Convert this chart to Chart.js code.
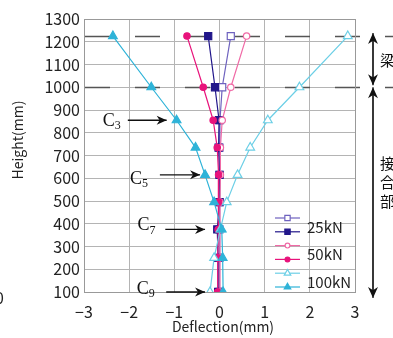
<!DOCTYPE html>
<html>
<head>
<meta charset="utf-8">
<script src="https://cdn.jsdelivr.net/npm/chart.js@4/dist/chart.umd.min.js"></script>
<style>
  html, body { margin: 0; padding: 0; background: #fff; }
  #wrap { width: 393px; height: 338px; }
</style>
</head>
<body>
<div id="wrap"><canvas id="chartDefl" width="393" height="338"></canvas></div>
<script>
// data
const heights = [1225, 1000, 855, 735, 615, 495, 375, 250, 100];
const def25open   = [0.25, 0.06, 0.01, 0.00, 0.00, 0.00, 0.00, 0.00, 0.00];
const def25fill   = [-0.25, -0.10, -0.01, -0.02, 0.00, 0.00, -0.05, -0.03, -0.03];
const def50open   = [0.60, 0.25, 0.06, 0.02, 0.02, 0.01, 0.01, 0.01, 0.01];
const def50fill   = [-0.72, -0.36, -0.14, -0.05, -0.02, -0.02, -0.03, -0.04, -0.04];
const def100open  = [2.84, 1.77, 1.07, 0.68, 0.40, 0.16, 0.02, -0.12, -0.21];
const def100fill  = [-2.36, -1.51, -0.95, -0.53, -0.32, -0.12, 0.05, 0.07, 0.08];

const xTicks = [-3, -2, -1, 0, 1, 2, 3];
const yTicks = [100, 200, 300, 400, 500, 600, 700, 800, 900, 1000, 1100, 1200, 1300];
const legendNames = ['25kN', '50kN', '100kN'];

// section boundaries (dashed lines) and cross-section markers
const boundaryHeights = [1225, 1000];
const cNames = ['3', '5', '7', '9'];
const cHeights = [855, 615, 375, 100];

const tickFont = '"Noto Sans CJK JP", "DejaVu Sans", sans-serif';

function pts(xs) {
    return xs.map((v, i) => ({ x: v, y: heights[i] }));
}

function series(label, xs, color, style, filled, radius, order) {
    return {
        label: label,
        data: pts(xs),
        showLine: true,
        order: order, // later series on top, like the original
        borderColor: color,
        backgroundColor: filled ? color : '#fff',
        pointBackgroundColor: filled ? color : '#fff',
        pointBorderColor: color,
        pointStyle: style,
        pointRadius: radius,
        pointBorderWidth: 1.2,
        borderWidth: 1.2,
        tension: 0
    };
}

const datasets = [
    series('25kN', def25open, '#6e62bf', 'rect', false, 5, 5),
    series('25kN', def25fill, '#21168a', 'rect', true, 5, 4),
    series('50kN', def50open, '#f06aa6', 'circle', false, 3.2, 3),
    series('50kN', def50fill, '#e8137b', 'circle', true, 3.2, 2),
    series('100kN', def100open, '#6ccfe6', 'triangle', false, 5, 1),
    series('100kN', def100fill, '#2eb3d8', 'triangle', true, 5, 0)
];

// dashed boundary lines (drawn under the data)
const boundaryPlugin = {
    id: 'boundary',
    beforeDatasetsDraw(chart) {
        const ctx = chart.ctx;
        const y = chart.scales.y;
        ctx.save();
        ctx.strokeStyle = '#555';
        ctx.lineWidth = 1.5;
        ctx.setLineDash([25, 25]);
        boundaryHeights.forEach(h => {
            const py = Math.round(y.getPixelForValue(h)) + 0.5;
            ctx.beginPath();
            ctx.moveTo(chart.chartArea.left + 1, py);
            ctx.lineTo(chart.width, py);
            ctx.stroke();
        });
        ctx.restore();
    }
};

function arrow(ctx, x1, y1, x2, y2, head) {
    ctx.beginPath();
    ctx.moveTo(x1, y1);
    ctx.lineTo(x2, y2);
    ctx.stroke();
    const a = Math.atan2(y2 - y1, x2 - x1);
    ctx.beginPath();
    ctx.moveTo(x2, y2);
    ctx.lineTo(x2 - head * Math.cos(a) + head * 0.45 * Math.sin(a), y2 - head * Math.sin(a) - head * 0.45 * Math.cos(a));
    ctx.lineTo(x2 - head * 0.7 * Math.cos(a), y2 - head * 0.7 * Math.sin(a));
    ctx.lineTo(x2 - head * Math.cos(a) - head * 0.45 * Math.sin(a), y2 - head * Math.sin(a) + head * 0.45 * Math.cos(a));
    ctx.closePath();
    ctx.fill();
}

// annotations: titles, C labels, right side arrows, legend
const notesPlugin = {
    id: 'notes',
    afterDraw(chart) {
        const ctx = chart.ctx;
        const xs = chart.scales.x;
        const ys = chart.scales.y;
        ctx.save();

        // axis titles
        ctx.fillStyle = '#222';
        ctx.font = '14px ' + tickFont;
        ctx.textAlign = 'center';
        ctx.textBaseline = 'middle';
        ctx.fillText('Deflection(mm)', 223, 327);
        ctx.save();
        ctx.translate(18, 140);
        ctx.rotate(-Math.PI / 2);
        ctx.fillText('Height(mm)', 0, 0);
        ctx.restore();

        // cut-off "0" at the far left
        ctx.font = '16px ' + tickFont;
        ctx.textAlign = 'left';
        ctx.fillText('0', -5, 298);

        // C labels with arrows
        const arrowFrom = [-2.03, -1.32, -1.2, -1.18];
        const arrowTo = [-1.17, -0.43, -0.32, -0.32];
        const labelX = [-2.45, -1.85, -1.68, -1.7];
        const labelDy = [1, 4, -4, -3];
        ctx.strokeStyle = '#111';
        ctx.fillStyle = '#111';
        ctx.lineWidth = 1.3;
        cNames.forEach((n, i) => {
            const py = ys.getPixelForValue(cHeights[i]);
            arrow(ctx, xs.getPixelForValue(arrowFrom[i]), py, xs.getPixelForValue(arrowTo[i]), py, 10);
            const lx = xs.getPixelForValue(labelX[i]);
            ctx.font = '18px "Liberation Serif", serif';
            ctx.textAlign = 'center';
            ctx.textBaseline = 'middle';
            ctx.fillText('C', lx, py + labelDy[i]);
            ctx.font = '12px "Liberation Serif", serif';
            ctx.textAlign = 'left';
            ctx.fillText(n, lx + 6, py + labelDy[i] + 5);
        });

        // right side spans
        const ax = xs.getPixelForValue(3) + 18;
        const yTop = ys.getPixelForValue(boundaryHeights[0]) - 3;
        const yMid = ys.getPixelForValue(boundaryHeights[1]) - 1;
        const yBot = ys.getPixelForValue(100) + 6;
        ctx.lineWidth = 1.2;
        arrow(ctx, ax, yMid - 2, ax, yTop, 11);
        arrow(ctx, ax, yTop + 2, ax, yMid - 1, 11);
        arrow(ctx, ax, yBot - 2, ax, yMid + 1, 11);
        arrow(ctx, ax, yMid + 3, ax, yBot, 11);
        ctx.font = '15px "Noto Sans CJK JP", sans-serif';
        ctx.textAlign = 'left';
        ctx.textBaseline = 'middle';
        ctx.fillText('梁', ax + 7, 60);
        ['接', '合', '部'].forEach((ch, i) => ctx.fillText(ch, ax + 7, 163 + i * 19));

        // legend inside plot area
        const lx0 = 275, lx1 = 300, ly0 = 218, step = 13.8;
        chart.data.datasets.forEach((ds, i) => {
            const y = ly0 + i * step;
            ctx.strokeStyle = ds.borderColor;
            ctx.lineWidth = ds.borderWidth;
            ctx.beginPath();
            ctx.moveTo(lx0, y);
            ctx.lineTo(lx1, y);
            ctx.stroke();
            ctx.fillStyle = ds.pointBackgroundColor;
            Chart.helpers.drawPoint(ctx, {
                pointStyle: ds.pointStyle,
                radius: ds.pointRadius * 0.75,
                rotation: 0,
                borderWidth: 1
            }, (lx0 + lx1) / 2, y);
        });
        ctx.fillStyle = '#222';
        ctx.font = '15px ' + tickFont;
        legendNames.forEach((n, i) => {
            ctx.fillText(n, 307, ly0 + (2 * i + 0.5) * step + 2);
        });

        ctx.restore();
    }
};

// plot box right and top edges
const boxEdgePlugin = {
    id: 'boxEdge',
    beforeDatasetsDraw(chart) {
        const a = chart.chartArea;
        const ctx = chart.ctx;
        ctx.save();
        ctx.strokeStyle = '#999';
        ctx.lineWidth = 1;
        ctx.strokeRect(a.left + 0.5, a.top + 0.5, a.right - a.left, a.bottom - a.top);
        ctx.restore();
    }
};

const chartDefl = document.getElementById('chartDefl');

new Chart(chartDefl, {
    type: 'scatter',
    data: { datasets: datasets },
    options: {
        responsive: false,
        animation: false,
        layout: { padding: { top: 19, right: 38, bottom: 0, left: 0 } },
        scales: {
            x: {
                type: 'linear',
                min: -3,
                max: 3,
                afterBuildTicks: s => { s.ticks = xTicks.map(v => ({ value: v })); },
                afterFit: s => { s.height = 46; },
                grid: { color: '#b4b4b4', lineWidth: 1, drawTicks: false },
                border: { color: '#999', width: 1 },
                ticks: {
                    color: '#222',
                    padding: 10,
                    font: { family: tickFont, size: 16 },
                    callback: v => (v < 0 ? '\u2212' + Math.abs(v) : String(v))
                }
            },
            y: {
                type: 'linear',
                min: 100,
                max: 1300,
                afterBuildTicks: s => { s.ticks = yTicks.map(v => ({ value: v })); },
                afterFit: s => { s.width = 84; },
                grid: { color: '#b4b4b4', lineWidth: 1, drawTicks: false },
                border: { color: '#999', width: 1 },
                ticks: {
                    color: '#222',
                    padding: 4,
                    font: { family: tickFont, size: 16 },
                    callback: v => String(v)
                }
            }
        },
        plugins: {
            legend: { display: false },
            tooltip: { enabled: false }
        }
    },
    plugins: [boundaryPlugin, boxEdgePlugin, notesPlugin]
});
</script>
</body>
</html>
